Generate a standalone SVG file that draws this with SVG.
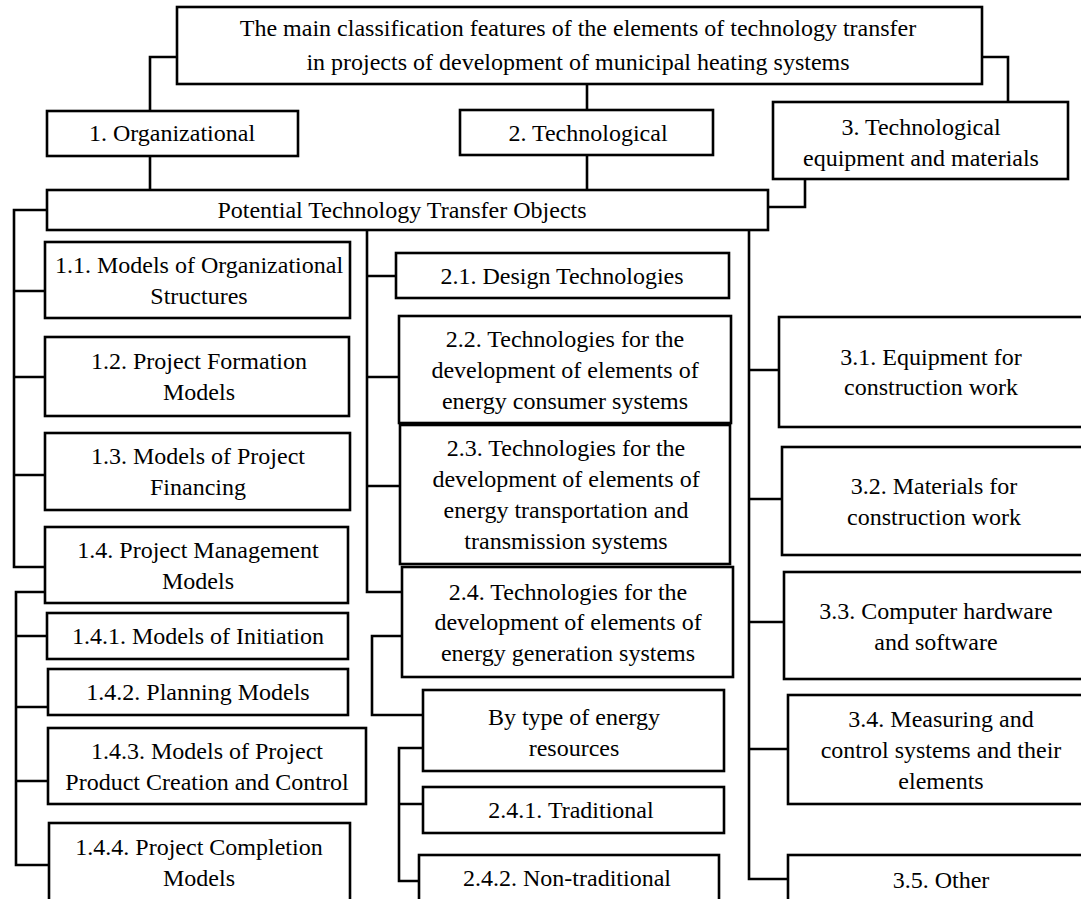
<svg xmlns="http://www.w3.org/2000/svg" width="1081" height="899" viewBox="0 0 1081 899" font-family="'Liberation Serif', 'Times New Roman', serif">
<style>
.box{fill:#fff;stroke:#000;stroke-width:2.6}
.c{fill:none;stroke:#000;stroke-width:2.6}
text{font-family:"Liberation Serif","Times New Roman",serif;font-size:24px;fill:#000;text-anchor:middle}
</style>
<rect width="1081" height="899" fill="#fff"/>
<g id="connectors">
<path class="c" d="M177,57 H150 V111"/>
<path class="c" d="M587,84 V110"/>
<path class="c" d="M982,57 H1008 V102"/>
<path class="c" d="M150,156 V190"/>
<path class="c" d="M587,155 V190"/>
<path class="c" d="M805,179 V207 H768"/>
<path class="c" d="M47,210 H14 V567 H45 M14,291 H45 M14,377 H45 M14,475 H45"/>
<path class="c" d="M45,592 H16 V865 H49 M16,636 H47 M16,707 H48 M16,781 H48"/>
<path class="c" d="M367,230 V592 H402 M367,276 H396 M367,377 H399 M367,486 H400"/>
<path class="c" d="M402,636 H372 V715 H423"/>
<path class="c" d="M423,748 H399 V881 H419 M399,804 H423"/>
<path class="c" d="M749,230 V879 H788 M749,370 H779 M749,499 H782 M749,622 H784 M749,749 H788"/>
</g>
<g id="top"><rect class="box" x="177" y="7" width="805" height="77"/><text x="578" y="36">The main classification features of the elements of technology transfer</text><text x="578" y="70">in projects of development of municipal heating systems</text></g>
<g id="n1"><rect class="box" x="47" y="111" width="251" height="45"/><text x="172" y="141">1. Organizational</text></g>
<g id="n2"><rect class="box" x="460" y="110" width="253" height="45"/><text x="588" y="141">2. Technological</text></g>
<g id="n3"><rect class="box" x="773" y="102" width="295" height="77"/><text x="921" y="135">3. Technological</text><text x="921" y="166">equipment and materials</text></g>
<g id="ptto"><rect class="box" x="47" y="190" width="721" height="40"/><text x="402" y="218">Potential Technology Transfer Objects</text></g>
<g id="n11"><rect class="box" x="45" y="242" width="305" height="76"/><text x="199" y="273">1.1. Models of Organizational</text><text x="199" y="304">Structures</text></g>
<g id="n12"><rect class="box" x="45" y="337" width="304" height="79"/><text x="199" y="369">1.2. Project Formation</text><text x="199" y="400">Models</text></g>
<g id="n13"><rect class="box" x="45" y="433" width="305" height="77"/><text x="198" y="464">1.3. Models of Project</text><text x="198" y="495">Financing</text></g>
<g id="n14"><rect class="box" x="45" y="527" width="303" height="76"/><text x="198" y="558">1.4. Project Management</text><text x="198" y="589">Models</text></g>
<g id="n141"><rect class="box" x="47" y="613" width="301" height="46"/><text x="198" y="644">1.4.1. Models of Initiation</text></g>
<g id="n142"><rect class="box" x="48" y="669" width="300" height="46"/><text x="198" y="700">1.4.2. Planning Models</text></g>
<g id="n143"><rect class="box" x="48" y="728" width="318" height="76"/><text x="207" y="759">1.4.3. Models of Project</text><text x="207" y="790">Product Creation and Control</text></g>
<g id="n144"><rect class="box" x="49" y="823" width="301" height="90"/><text x="199" y="855">1.4.4. Project Completion</text><text x="199" y="886">Models</text></g>
<g id="n21"><rect class="box" x="396" y="253" width="333" height="45"/><text x="562" y="284">2.1. Design Technologies</text></g>
<g id="n22"><rect class="box" x="399" y="316" width="332" height="107"/><text x="565" y="347">2.2. Technologies for the</text><text x="565" y="378">development of elements of</text><text x="565" y="409">energy consumer systems</text></g>
<g id="n23"><rect class="box" x="400" y="425" width="330" height="139"/><text x="566" y="456">2.3. Technologies for the</text><text x="566" y="487">development of elements of</text><text x="566" y="518">energy transportation and</text><text x="566" y="549">transmission systems</text></g>
<g id="n24"><rect class="box" x="402" y="567" width="331" height="110"/><text x="568" y="600">2.4. Technologies for the</text><text x="568" y="630">development of elements of</text><text x="568" y="661">energy generation systems</text></g>
<g id="bytype"><rect class="box" x="423" y="690" width="301" height="81"/><text x="574" y="725">By type of energy</text><text x="574" y="756">resources</text></g>
<g id="n241"><rect class="box" x="423" y="787" width="301" height="46"/><text x="571" y="818">2.4.1. Traditional</text></g>
<g id="n242"><rect class="box" x="419" y="855" width="300" height="60"/><text x="567" y="886">2.4.2. Non-traditional</text></g>
<g id="n31"><rect class="box" x="779" y="317" width="320" height="110"/><text x="931" y="365">3.1. Equipment for</text><text x="931" y="395">construction work</text></g>
<g id="n32"><rect class="box" x="782" y="447" width="320" height="108"/><text x="934" y="494">3.2. Materials for</text><text x="934" y="525">construction work</text></g>
<g id="n33"><rect class="box" x="784" y="572" width="320" height="107"/><text x="936" y="619">3.3. Computer hardware</text><text x="936" y="650">and software</text></g>
<g id="n34"><rect class="box" x="788" y="695" width="320" height="109"/><text x="941" y="727">3.4. Measuring and</text><text x="941" y="758">control systems and their</text><text x="941" y="789">elements</text></g>
<g id="n35"><rect class="box" x="788" y="855" width="320" height="60"/><text x="941" y="888">3.5. Other</text></g>
</svg>
